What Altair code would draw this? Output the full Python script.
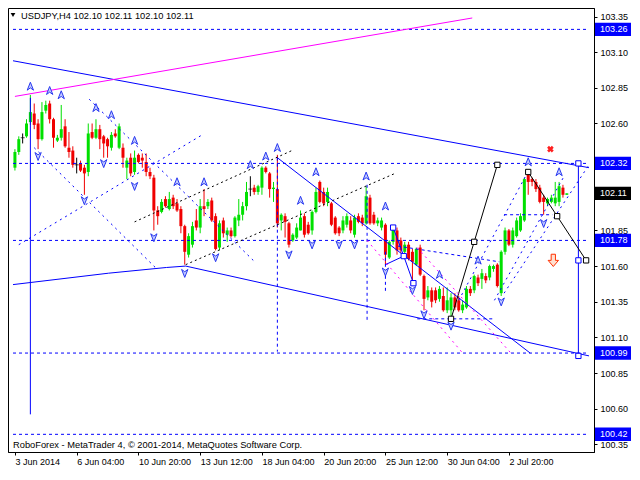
import altair as alt
import pandas as pd

# ---------------- data ----------------
opens = [102.29,102.40,102.50,102.51,102.61,102.67,102.60,102.49,102.69,102.74,
102.63,102.48,102.50,102.58,102.43,102.41,102.31,102.32,102.29,102.26,
102.54,102.50,102.56,102.51,102.49,102.43,102.53,102.43,102.43,102.29,
102.36,102.26,102.38,102.36,102.33,102.26,102.22,101.99,101.98,102.07,
102.00,102.08,102.04,102.00,101.88,101.68,101.75,101.92,101.87,102.02,
102.02,102.06,101.95,101.73,101.92,101.82,101.85,101.81,101.92,101.96,
102.02,102.14,102.15,102.12,102.15,102.29,102.25,102.14,102.14,101.92,
101.95,101.90,101.78,101.80,101.85,101.95,101.89,101.85,101.98,102.19,
102.12,102.05,102.04,101.94,101.87,101.85,101.89,101.92,101.82,101.95,
101.94,101.90,102.08,101.96,101.90,101.87,101.89,101.66,101.77,101.85,
101.78,101.70,101.75,101.70,101.61,101.73,101.53,101.38,101.43,101.43,
101.37,101.39,101.29,101.29,101.38,101.36,101.29,101.31,101.44,101.43,
101.52,101.51,101.53,101.52,101.58,101.61,101.41,101.70,101.85,101.75,
101.81,101.85,101.92,102.24,102.21,102.19,102.15,102.08,102.04,102.05,
102.04,102.05,102.15,102.10]
highs = [102.42,102.51,102.53,102.63,102.80,102.74,102.63,102.75,102.76,102.76,
102.64,102.52,102.73,102.63,102.54,102.44,102.36,102.34,102.31,102.60,
102.60,102.63,102.59,102.52,102.50,102.54,102.56,102.60,102.46,102.36,
102.39,102.41,102.39,102.39,102.39,102.29,102.24,102.02,102.07,102.09,
102.12,102.10,102.07,102.02,101.89,101.83,101.91,102.00,102.07,102.14,
102.07,102.08,101.97,101.92,101.94,101.87,101.87,101.95,102.07,102.05,
102.19,102.23,102.17,102.17,102.30,102.30,102.26,102.19,102.38,101.97,
101.97,101.91,101.83,101.90,101.99,101.97,101.91,101.99,102.15,102.20,
102.15,102.15,102.05,101.95,101.88,101.95,101.97,101.95,101.96,101.97,
101.96,102.16,102.10,101.98,101.94,101.94,101.90,101.78,101.88,101.87,
101.80,101.77,101.77,101.72,101.73,101.75,101.54,101.46,101.45,101.45,
101.46,101.45,101.45,101.41,101.41,101.39,101.36,101.46,101.46,101.54,
101.54,101.58,101.55,101.61,101.61,101.62,101.71,101.87,101.86,101.87,
101.94,101.97,102.22,102.26,102.22,102.21,102.17,102.10,102.08,102.10,
102.19,102.19,102.17,102.11]
lows = [102.27,102.38,102.46,102.50,102.59,102.56,102.42,102.48,102.67,102.60,
102.43,102.47,102.48,102.43,102.36,102.29,102.25,102.26,102.10,102.23,
102.49,102.49,102.42,102.36,102.36,102.41,102.50,102.42,102.29,102.21,
102.23,102.24,102.32,102.29,102.23,102.21,101.85,101.89,101.97,102.01,
101.99,102.00,101.98,101.83,101.61,101.66,101.73,101.85,101.83,101.95,
102.00,101.91,101.71,101.71,101.80,101.77,101.80,101.80,101.88,101.92,
101.99,102.09,102.10,102.10,102.10,102.25,102.08,102.05,101.87,101.85,
101.80,101.73,101.77,101.79,101.85,101.80,101.82,101.82,101.97,102.04,
102.02,102.02,101.88,101.82,101.81,101.83,101.87,101.83,101.80,101.90,
101.88,101.89,101.89,101.89,101.88,101.85,101.61,101.65,101.75,101.68,
101.69,101.68,101.64,101.48,101.60,101.53,101.29,101.36,101.31,101.34,
101.35,101.28,101.27,101.22,101.29,101.28,101.27,101.30,101.39,101.41,
101.46,101.44,101.48,101.50,101.56,101.45,101.39,101.68,101.74,101.73,
101.80,101.84,101.91,102.10,102.16,102.12,102.04,101.96,102.02,102.04,
102.02,102.02,102.08,102.10]
closes = [102.40,102.49,102.50,102.60,102.68,102.59,102.49,102.68,102.73,102.63,
102.50,102.50,102.56,102.44,102.40,102.31,102.31,102.27,102.25,102.53,
102.50,102.56,102.49,102.46,102.44,102.52,102.51,102.58,102.36,102.34,
102.25,102.36,102.33,102.34,102.26,102.23,101.99,101.95,102.05,102.02,
102.07,102.02,101.99,101.88,101.70,101.81,101.88,101.87,102.02,102.00,
102.05,101.92,101.72,101.90,101.83,101.85,101.81,101.94,101.96,102.02,
102.12,102.14,102.12,102.16,102.29,102.26,102.14,102.15,101.90,101.96,
101.91,101.75,101.82,101.87,101.94,101.82,101.83,101.98,102.12,102.05,
102.04,102.12,101.89,101.83,101.83,101.92,101.95,101.85,101.94,101.91,
101.90,102.09,101.90,101.90,101.92,101.92,101.68,101.77,101.87,101.71,
101.71,101.75,101.65,101.63,101.72,101.54,101.37,101.43,101.35,101.36,
101.44,101.29,101.36,101.38,101.31,101.29,101.33,101.44,101.41,101.53,
101.48,101.55,101.50,101.60,101.60,101.46,101.70,101.85,101.75,101.85,
101.92,101.95,102.21,102.19,102.19,102.14,102.05,102.05,102.07,102.08,
102.08,102.16,102.10,102.11]

date_labels = ['3 Jun 2014', '6 Jun 04:00', '10 Jun 20:00', '13 Jun 12:00', '18 Jun 04:00',
               '20 Jun 20:00', '25 Jun 12:00', '30 Jun 04:00', '2 Jul 20:00']
price_ticks = [100.35, 100.60, 100.85, 101.10, 101.35, 101.60, 101.85, 102.10,
               102.35, 102.60, 102.85, 103.10, 103.35]
hidden_tick_labels = [102.10, 102.35]   # covered by the price badges in the reference
level_prices = [103.26, 102.32, 101.78, 100.99, 100.42]
last_price = 102.11
title_text = 'USDJPY,H4  102.10 102.11 102.10 102.11'
footer_text = 'RoboForex - MetaTrader 4, \u00a9 2001-2014, MetaQuotes Software Corp.'

# annotation objects (bar index, price)
blue_solid_lines = [
    [(-0.5, 103.04), (148.75, 102.29)],
    [(-0.5, 101.47), (24.25, 101.55), (39.25, 101.59), (44.25, 101.60), (148.75, 100.97)],
    [(68, 102.36), (133.5, 100.99)],
    [(4, 102.78), (4, 100.56)],
    [(146, 102.32), (146, 100.97)],
    [(98, 101.87), (100.75, 101.67), (103.25, 101.48)],
    [(96, 101.61), (100.75, 101.67)],
]
blue_dashed_lines = [
    [(68, 102.36), (68, 101.00)],
    [(91.25, 102.17), (91.25, 101.22)],
    [(96, 101.70), (96, 101.41)],
    [(99.25, 101.74), (125.5, 101.63)],
    [(104.25, 101.23), (124.25, 101.23)],
    [(126.75, 101.96), (139.25, 101.96)],
]
blue_dotted_lines = [
    [(1, 101.75), (48.5, 102.52)],
    [(5, 102.43), (36.75, 101.58)],
    [(19.25, 102.77), (61.75, 101.64)],
    [(115, 101.36), (132.5, 102.24)],
    [(124.25, 101.36), (142.5, 102.24)],
    [(126.75, 101.41), (148.75, 102.31)],
]
black_solid_lines = [
    [(113, 101.23), (119, 101.77), (125, 102.31)],
    [(133, 102.26), (140.5, 101.95), (148, 101.64)],
]
black_dotted_lines = [
    [(31, 101.91), (71.75, 102.41)],
    [(44.25, 101.61), (98.5, 102.25)],
]
magenta_solid_lines = [[(0, 102.79), (118.5, 103.34)]]
magenta_dotted_lines = [
    [(91.25, 101.78), (116, 100.99)],
    [(104.25, 101.73), (128.5, 100.99)],
]
black_squares = [(113, 101.23), (119, 101.77), (125, 102.31), (133, 102.26), (140.5, 101.95), (148, 101.64)]
blue_squares = [(98, 101.87), (100.75, 101.67), (103.25, 101.48), (146, 102.32), (146, 101.64), (146, 100.97)]

up_frac_i = [4, 9, 12, 21, 25, 31, 42, 49, 61, 65, 68, 74, 78, 91, 96, 110, 120, 133, 141]
up_frac_p = [102.86, 102.83, 102.80, 102.71, 102.66, 102.48, 102.19, 102.19, 102.31, 102.37,
             102.43, 102.06, 102.26, 102.23, 102.02, 101.54, 101.64, 102.33, 102.26]
dn_frac_i = [6, 18, 23, 31, 36, 44, 52, 71, 77, 84, 88, 96, 103, 106, 113, 126, 137]
dn_frac_p = [102.37, 102.06, 102.32, 102.16, 101.80, 101.55, 101.66, 101.68, 101.75, 101.75,
             101.75, 101.56, 101.43, 101.26, 101.18, 101.35, 101.90]
red_x = (138.75, 102.42)
red_arrow = (139.5, 101.64)

# ---------------- chart ----------------
W, H = 586, 444
RPAD = 38
FONT = 'Liberation Sans'
xscale = alt.Scale(domain=[-0.5, 148.75], nice=False, zero=False)
yscale = alt.Scale(domain=[100.296, 103.41], nice=False, zero=False)
GREEN, RED = '#00e000', '#f00000'

label_expr = '[' + ','.join("'%s'" % s for s in date_labels) + '][round(datum.value/16)]'
hide_cond = ' || '.join('abs(datum.value-%s)<0.001' % v for v in hidden_tick_labels)
y_label_expr = "(%s) ? '' : format(datum.value, '.2f')" % hide_cond
x_axis = alt.Axis(values=[16 * k for k in range(len(date_labels))], labelExpr=label_expr,
                  labelAlign='left', labelPadding=2, tickSize=3, labelOverlap=False,
                  labelFlush=False, orient='bottom', title=None)
y_axis = alt.Axis(values=price_ticks, labelExpr=y_label_expr, orient='right', tickSize=3,
                  labelPadding=3, labelOverlap=False, labelFlush=False, title=None)

def X(f='i'):
    return alt.X(f + ':Q', scale=xscale, axis=x_axis)

def Y(f='p'):
    return alt.Y(f + ':Q', scale=yscale, axis=y_axis)

n = len(opens)
cd = pd.DataFrame({'i': list(range(n)), 'o': opens, 'h': highs, 'l': lows, 'c': closes})
up = cd[cd.c > cd.o]
down = cd[cd.c < cd.o]
flat = cd[cd.c == cd.o]

def candle_layers(df, color):
    w = alt.Chart(df).mark_rule(strokeWidth=1, color=color).encode(x=X(), y=Y('l'), y2='h:Q')
    b = alt.Chart(df).mark_bar(size=3, color=color).encode(x=X(), y=Y('o'), y2='c:Q')
    return [w, b]

layers = []
layers += candle_layers(up, GREEN)
layers += candle_layers(down, RED)
layers.append(alt.Chart(flat).mark_rule(strokeWidth=1, color='black').encode(x=X(), y=Y('l'), y2='h:Q'))
layers.append(alt.Chart(flat).mark_tick(orient='horizontal', size=4, thickness=1, color='black')
              .encode(x=X(), y=Y('c')))

def seg_df(lines):
    rows = []
    for k, pts in enumerate(lines):
        for j, (a, b) in enumerate(pts):
            rows.append({'i': a, 'p': b, 'seg': k, 'ord': j})
    return pd.DataFrame(rows)

def line_layer(lines, color, dash=None):
    kw = dict(color=color, strokeWidth=1, clip=True)
    if dash:
        kw['strokeDash'] = dash
    return alt.Chart(seg_df(lines)).mark_line(**kw).encode(
        x=X(), y=Y(), detail='seg:N', order='ord:Q')

levels = [[(-0.5, p), (148.75, p)] for p in level_prices]

layers += [
    line_layer(levels, '#0000ff', [3, 3]),
    line_layer(blue_dashed_lines, '#0000ff', [3, 3]),
    line_layer(blue_dotted_lines, '#0000ff', [2, 4]),
    line_layer(blue_solid_lines, '#0000ff'),
    line_layer(black_dotted_lines, '#000000', [2, 3]),
    line_layer(black_solid_lines, '#000000'),
    line_layer(magenta_solid_lines, '#ff00ff'),
    line_layer(magenta_dotted_lines, '#ff00ff', [2, 4]),
]

up_path = 'M0,-1 L0.75,0.9 L0,0.35 L-0.75,0.9 Z'
dn_path = 'M0,1 L0.75,-0.9 L0,-0.35 L-0.75,-0.9 Z'
fr_up = alt.Chart(pd.DataFrame({'i': up_frac_i, 'p': up_frac_p})).mark_point(
    shape=up_path, size=70, filled=True, fill='#c4ccff', stroke='#2838f0', strokeWidth=1, opacity=1
).encode(x=X(), y=Y())
fr_dn = alt.Chart(pd.DataFrame({'i': dn_frac_i, 'p': dn_frac_p})).mark_point(
    shape=dn_path, size=70, filled=True, fill='#c4ccff', stroke='#2838f0', strokeWidth=1, opacity=1
).encode(x=X(), y=Y())

sq_black = alt.Chart(pd.DataFrame(black_squares, columns=['i', 'p'])).mark_point(
    shape='square', size=28, filled=True, fill='white', stroke='black', strokeWidth=1, opacity=1
).encode(x=X(), y=Y())
sq_blue = alt.Chart(pd.DataFrame(blue_squares, columns=['i', 'p'])).mark_point(
    shape='square', size=28, filled=True, fill='white', stroke='#0000ff', strokeWidth=1, opacity=1
).encode(x=X(), y=Y())

rx = alt.Chart(pd.DataFrame([red_x], columns=['i', 'p'])).mark_point(
    shape='cross', angle=45, size=45, filled=True, color='#ff2020', opacity=1).encode(x=X(), y=Y())
arrow_path = 'M-0.35,-1 L0.35,-1 L0.35,0 L0.85,0 L0,1 L-0.85,0 L-0.35,0 Z'
ra = alt.Chart(pd.DataFrame([red_arrow], columns=['i', 'p'])).mark_point(
    shape=arrow_path, size=150, filled=True, fill='#ffe0d0', stroke='#ff3000', strokeWidth=1, opacity=1
).encode(x=X(), y=Y())

layers += [fr_up, fr_dn, sq_black, sq_blue, rx, ra]

# price badges on the right axis
bh = 0.047
def badge_layers(prices, bg):
    df = pd.DataFrame({'p': prices})
    df['p1'] = df['p'] - bh
    df['p2'] = df['p'] + bh
    df['t'] = df['p'].map(lambda v: '%.2f' % v)
    r = alt.Chart(df).mark_rect(color=bg, clip=False).encode(
        x=alt.value(W + 1), x2=alt.value(W + RPAD - 1), y=Y('p1'), y2='p2:Q')
    t = alt.Chart(df).mark_text(align='left', baseline='middle', font=FONT, fontSize=9,
                                color='white', clip=False).encode(
        x=alt.value(W + 6), y=Y('p'), text='t:N')
    return [r, t]

layers += badge_layers(level_prices, '#0000ff')
layers += badge_layers([last_price], '#000000')

title_df = pd.DataFrame({'t': [title_text]})
title = alt.Chart(title_df).mark_text(align='left', baseline='middle', font=FONT, fontSize=9.3,
                                      color='black').encode(x=alt.value(13), y=alt.value(8), text='t:N')
tri = alt.Chart(title_df).mark_point(shape='triangle-down', size=22, filled=True, color='black',
                                     opacity=1).encode(x=alt.value(5), y=alt.value(7))
footer = alt.Chart(pd.DataFrame({'t': [footer_text]})).mark_text(
    align='left', baseline='middle', font=FONT, fontSize=9.3, color='black').encode(
    x=alt.value(5), y=alt.value(H - 7), text='t:N')
layers += [title, tri, footer]

chart = alt.layer(*layers).properties(
    width=W, height=H,
    autosize=alt.AutoSizeParams(type='none'),
    padding={'left': 0, 'top': 0, 'right': RPAD, 'bottom': 18},
    background='white',
).configure_view(stroke='black', strokeWidth=1).configure_axis(
    labelFont=FONT, labelFontSize=9, labelColor='black', tickColor='black',
    domainColor='black', grid=False)

chart.save('out.html', embed_options={'renderer': 'svg', 'actions': False})
